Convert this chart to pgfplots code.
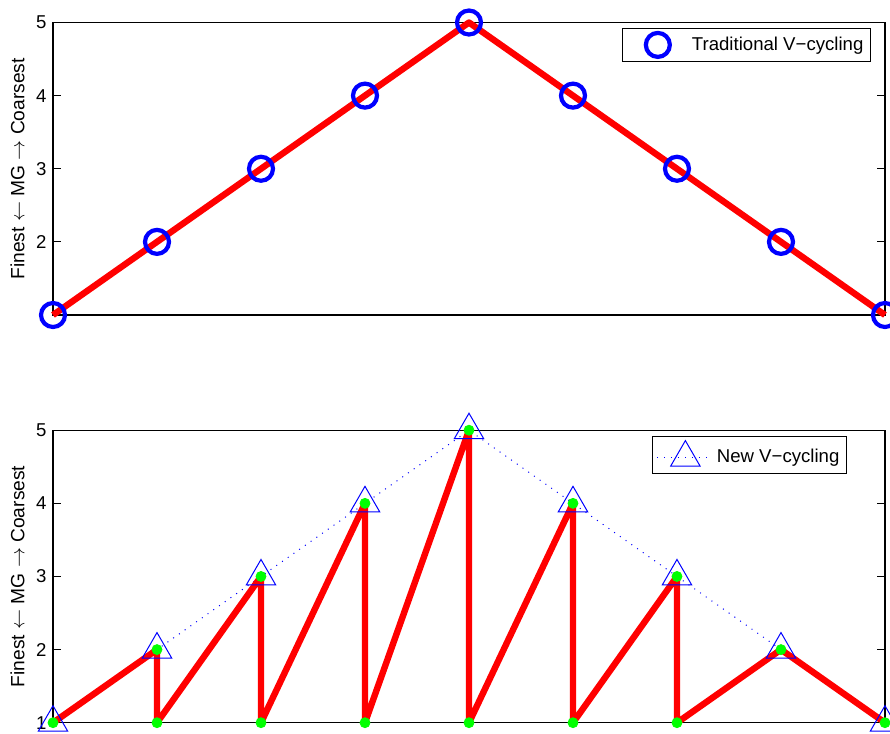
\documentclass[border=0pt]{standalone}
\usepackage{fontspec}
\setmainfont{Liberation Sans}
\usepackage{pgfplots}
\pgfplotsset{compat=1.18}
\pgfplotsset{
  circlegend/.style={legend image code/.code={\path (0pt,0pt) (29pt,0pt); \draw[##1] plot coordinates {(14.5pt,0pt)};}},
  trilegend/.style={legend image code/.code={\draw[##1, mark repeat=2, mark phase=2] plot coordinates {(0pt,0pt)(14pt,0pt)(28pt,0pt)};}},
  vstyle/.style={
    width=416pt, height=146.25pt, scale only axis,
    xmin=1, xmax=9, ymin=1, ymax=5,
    xtick=\empty, ytick={1,2,3,4,5},
    tick align=inside, major tick length=4pt,
    axis line style={line width=0.6pt},
    every tick/.style={line width=0.6pt, black},
    clip=false,
    font=\fontsize{9.3}{11}\selectfont,
    /pgf/number format/assume math mode=true,
    ylabel={Finest $\leftarrow$ MG $\rightarrow$ Coarsest},
    ylabel style={at={([xshift=-17.75pt]axis description cs:0,0.5)}, anchor=center, font=\fontsize{9.6}{11}\selectfont},
    legend style={at={(1,1)}, anchor=north east, yshift=-2.7pt,
      draw=black, line width=0.6pt, inner xsep=2pt, inner ysep=2.2pt,
      nodes={inner sep=1.5pt}},
    legend cell align=left,
  }
}
\begin{document}
\fontsize{9.3}{11}\selectfont
\begin{tikzpicture}
\path[use as bounding box] (0,0) rectangle (445pt,-367pt);
\begin{axis}[vstyle, at={(26.5pt,-157.5pt)}, anchor=south west, yticklabels={,2,3,4,5},
  legend style={xshift=-7pt}]
\addplot[only marks, blue, mark=o, mark size=6pt, line width=2.1pt, circlegend]
  coordinates {(1,1)(2,2)(3,3)(4,4)(5,5)(6,4)(7,3)(8,2)(9,1)};
\addlegendentry{Traditional V−cycling}
\addplot[red, line width=3.2pt, line join=round, forget plot]
  coordinates {(1,1)(2,2)(3,3)(4,4)(5,5)(6,4)(7,3)(8,2)(9,1)};
\end{axis}
\begin{axis}[vstyle, at={(26.5pt,-361.35pt)}, anchor=south west, yticklabels={1,2,3,4,5},
  legend style={xshift=-19pt}]
\addplot[blue, line width=0.5pt, dash pattern=on 0.5pt off 3pt, mark=triangle, mark size=8.5pt,
  mark options={solid, line width=0.5pt}, trilegend]
  coordinates {(1,1)(2,2)(3,3)(4,4)(5,5)(6,4)(7,3)(8,2)(9,1)};
\addlegendentry{New V−cycling}
\addplot[red, line width=3.2pt, line join=round, forget plot]
  coordinates {(1,1)(2,2)(2,1)(3,3)(3,1)(4,4)(4,1)(5,5)(5,1)(6,4)(6,1)(7,3)(7,1)(8,2)(9,1)};
\addplot[only marks, mark=*, mark size=2.5pt, color=green, forget plot]
  coordinates {(1,1)(2,2)(2,1)(3,3)(3,1)(4,4)(4,1)(5,5)(5,1)(6,4)(6,1)(7,3)(7,1)(8,2)(9,1)};
\end{axis}
\end{tikzpicture}
\end{document}
